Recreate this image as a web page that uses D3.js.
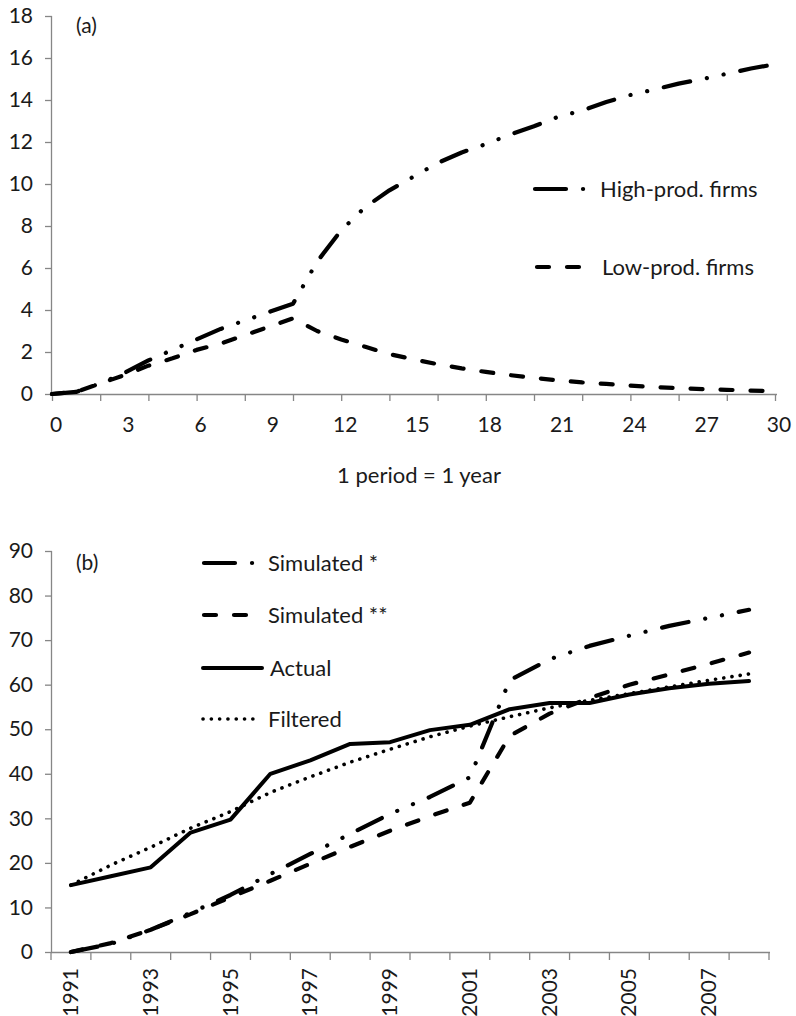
<!DOCTYPE html>
<html>
<head>
<meta charset="utf-8">
<script src="https://cdn.jsdelivr.net/npm/d3@7/dist/d3.min.js"></script>
<style>
  html, body { margin: 0; padding: 0; background: #fff; }
  text { font-family: Lato, "Open Sans", sans-serif; fill: #1a1a1a; }
</style>
</head>
<body>
<svg id="chart" width="796" height="1016"></svg>
<script>
// ---- Panel (a) data ----
const periods = d3.range(0, 31);
const periodTickLabels = [0, 3, 6, 9, 12, 15, 18, 21, 24, 27, 30];
const yTicksA = [0, 2, 4, 6, 8, 10, 12, 14, 16, 18];
const highProd = [0, 0.1, 0.5, 1.0, 1.6, 2.1, 2.6, 3.1, 3.5, 3.9, 4.3,
  6.3, 7.8, 8.9, 9.7, 10.35, 11.0, 11.5, 11.9, 12.35, 12.75,
  13.2, 13.5, 13.9, 14.24, 14.5, 14.78, 15.0, 15.25, 15.5, 15.7];
const lowProd = [0, 0.1, 0.5, 0.9, 1.35, 1.7, 2.1, 2.4, 2.8, 3.2, 3.6,
  3.0, 2.6, 2.25, 1.9, 1.65, 1.42, 1.22, 1.05, 0.9, 0.77,
  0.65, 0.55, 0.48, 0.4, 0.33, 0.28, 0.23, 0.2, 0.16, 0.14];

// ---- Panel (b) data ----
const years = d3.range(1991, 2009).map(String);
const yearTickLabels = ["1991", "1993", "1995", "1997", "1999", "2001", "2003", "2005", "2007"];
const yTicksB = [0, 10, 20, 30, 40, 50, 60, 70, 80, 90];
const simulated1 = [0, 1.8, 5.0, 8.8, 12.8, 17.5, 22.0, 26.5, 31.0, 34.8, 39.2,
  61.0, 65.7, 68.7, 71.0, 73.2, 75.0, 76.8];
const simulated2 = [0, 2.0, 5.0, 8.5, 12.3, 16.0, 19.8, 23.6, 27.2, 30.5, 33.5,
  48.5, 53.5, 57.0, 60.0, 62.3, 64.7, 67.2];
const actual = [15, 17, 19, 26.8, 29.7, 40, 43, 46.7, 47.1, 49.8, 51,
  54.5, 55.9, 55.9, 57.8, 59.2, 60.2, 60.8];
const filtered = [15, 19.5, 23.5, 27.8, 31.5, 35.8, 39.3, 42.6, 45.5, 48.3, 50.7,
  52.8, 54.8, 56.5, 58, 59.5, 61, 62.4];

const svg = d3.select("#chart");
const axisColor = "#868686";
const tickFont = 21;
const textFont = 22;

const styles = {
  dashDotDot: { width: 4.2, dash: "27,17,0.1,17,0.1,17", cap: "round" },
  dashed: { width: 4.2, dash: "12,18", cap: "round" },
  solid: { width: 4, dash: null, cap: "round" },
  dotted: { width: 3.6, dash: "0.1,8.2", cap: "round" }
};

function drawLine(g, data, xs, y, st) {
  const line = d3.line().x((d, i) => xs[i]).y(d => y(d));
  const p = g.append("path").datum(data)
    .attr("d", line)
    .attr("fill", "none")
    .attr("stroke", "#000")
    .attr("stroke-width", st.width)
    .attr("stroke-linecap", st.cap)
    .attr("stroke-linejoin", "round");
  if (st.dash) p.attr("stroke-dasharray", st.dash);
}

function legendSample(g, x1, x2, yy, st) {
  const p = g.append("line")
    .attr("x1", x1).attr("x2", x2).attr("y1", yy).attr("y2", yy)
    .attr("stroke", "#000").attr("stroke-width", st.width)
    .attr("stroke-linecap", st.cap);
  if (st.dash) p.attr("stroke-dasharray", st.dash);
}

function styleYAxis(ya, y, top) {
  ya.selectAll("path,line").attr("stroke", axisColor).attr("stroke-width", 1.3);
  ya.select(".domain").attr("d", `M-0.5,${y(top)}V${y(0)}`);
  ya.selectAll("text").style("font-size", tickFont + "px").style("font-family", "Lato").attr("fill", "#1a1a1a");
}

// ================= Panel (a) =================
{
  const x = d3.scaleLinear().domain([0, 30]).range([52, 775]);
  const y = d3.scaleLinear().domain([0, 18]).range([394, 16]);
  const g = svg.append("g");

  const yAxis = d3.axisLeft(y).tickValues(yTicksA).tickSize(7).tickPadding(12);
  const ya = g.append("g").attr("transform", "translate(52,0)").call(yAxis);
  styleYAxis(ya, y, 18);

  // x axis: ticks every 2 periods, labels every 3
  const xAxis = d3.axisBottom(x).tickValues(d3.range(0, 31, 2)).tickSize(7).tickFormat("");
  const xa = g.append("g").attr("transform", `translate(0,${y(0)})`).call(xAxis);
  xa.selectAll("path,line").attr("stroke", axisColor).attr("stroke-width", 1.3);
  xa.select(".domain").attr("d", `M52,0.5H777`);
  g.append("g").selectAll("text").data(periodTickLabels).join("text")
    .attr("x", d => x(d) + 4).attr("y", 432)
    .attr("text-anchor", "middle")
    .style("font-size", tickFont + "px")
    .text(d => d);

  const xs = periods.map(x);
  drawLine(g, lowProd, xs, y, styles.dashed);
  drawLine(g, highProd, xs, y, styles.dashDotDot);

  g.append("text").attr("x", 76).attr("y", 33).style("font-size", "21px").text("(a)");

  legendSample(g, 535, 590, 189, { ...styles.dashDotDot, dash: "31,17,0.1,40" });
  g.append("text").attr("x", 600).attr("y", 197).style("font-size", textFont + "px").text("High-prod. firms");
  legendSample(g, 537, 585, 267, styles.dashed);
  g.append("text").attr("x", 602).attr("y", 275).style("font-size", textFont + "px").text("Low-prod. firms");

  g.append("text").attr("x", 419).attr("y", 483).attr("text-anchor", "middle")
    .style("font-size", textFont + "px").text("1 period = 1 year");
}

// ================= Panel (b) =================
{
  const x = d3.scaleBand().domain(years).range([51, 769]);
  const xc = d => x(d) + x.bandwidth() / 2;
  const y = d3.scaleLinear().domain([0, 90]).range([952, 551]);
  const g = svg.append("g");

  const yAxis = d3.axisLeft(y).tickValues(yTicksB).tickSize(7).tickPadding(12);
  const ya = g.append("g").attr("transform", "translate(52,0)").call(yAxis);
  styleYAxis(ya, y, 90);

  // x ticks at band boundaries
  const bounds = years.map(d => x(d)).concat([x.range()[1]]);
  const xa = g.append("g").attr("transform", `translate(0,${y(0)})`);
  xa.append("path").attr("d", `M51,0.5H770`).attr("stroke", axisColor).attr("stroke-width", 1.3);
  xa.selectAll("line").data(bounds).join("line")
    .attr("x1", d => d).attr("x2", d => d).attr("y1", 0).attr("y2", 8)
    .attr("stroke", axisColor).attr("stroke-width", 1.3);
  g.append("g").selectAll("text").data(yearTickLabels).join("text")
    .attr("transform", d => `translate(${xc(d) + 7},968) rotate(-90)`)
    .attr("text-anchor", "end")
    .style("font-size", tickFont + "px")
    .text(d => d);

  const xs = years.map(xc);
  drawLine(g, filtered, xs, y, styles.dotted);
  drawLine(g, actual, xs, y, styles.solid);
  drawLine(g, simulated2, xs, y, styles.dashed);
  drawLine(g, simulated1, xs, y, styles.dashDotDot);

  g.append("text").attr("x", 76).attr("y", 570).style("font-size", "21px").text("(b)");

  legendSample(g, 204, 256, 563, { ...styles.dashDotDot, dash: "31,17,0.1,40" });
  g.append("text").attr("x", 268).attr("y", 571).style("font-size", textFont + "px").text("Simulated *");
  legendSample(g, 204, 250, 615, styles.dashed);
  g.append("text").attr("x", 268).attr("y", 623).style("font-size", textFont + "px").text("Simulated **");
  legendSample(g, 203, 262, 668, styles.solid);
  g.append("text").attr("x", 270).attr("y", 676).style("font-size", textFont + "px").text("Actual");
  legendSample(g, 203, 258, 719, styles.dotted);
  g.append("text").attr("x", 268).attr("y", 727).style("font-size", textFont + "px").text("Filtered");
}
</script>
</body>
</html>
